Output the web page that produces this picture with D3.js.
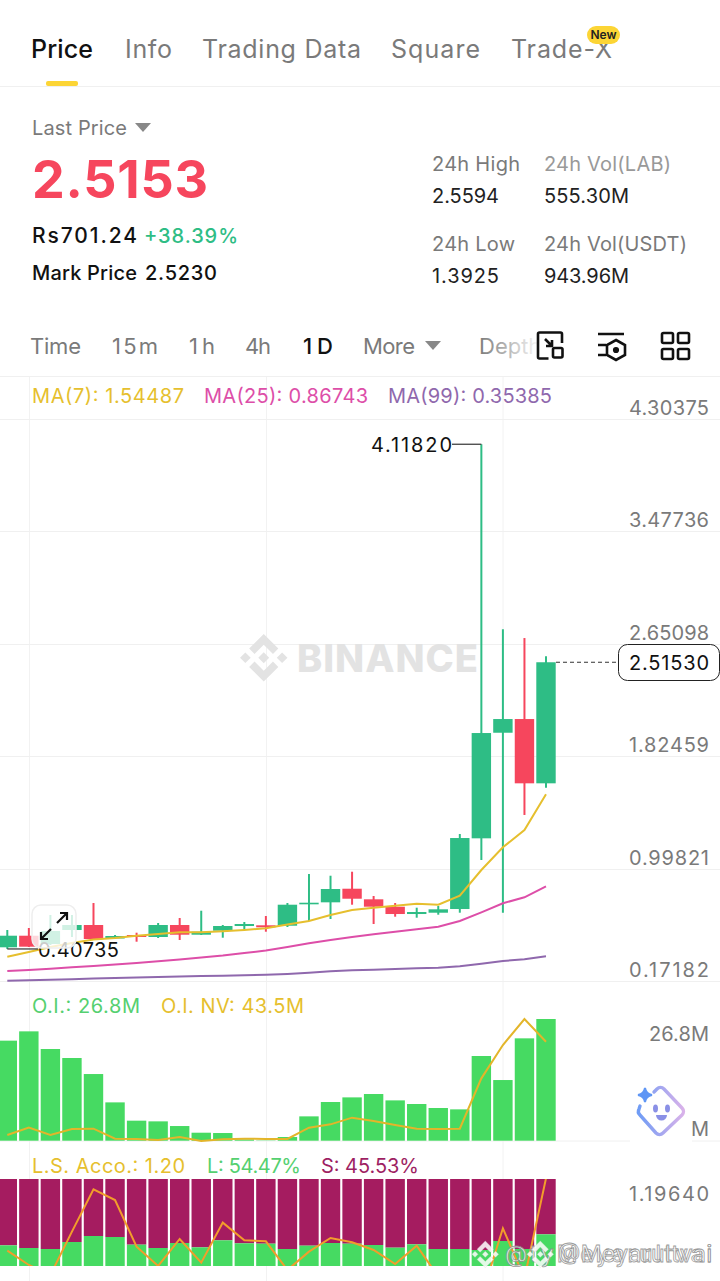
<!DOCTYPE html>
<html>
<head>
<meta charset="utf-8">
<script src="https://cdn.jsdelivr.net/npm/d3@7/dist/d3.min.js"></script>
<style>
html, body { margin: 0; padding: 0; background: #fff; }
svg { display: block; }
text { font-family: Inter, Lato, sans-serif; }
</style>
</head>
<body>
<script>
//candle data
var opens  = [0.4196,0.5048,0.4438,0.5467,0.5835,0.4842,0.5100,0.4953,0.5835,0.5122,0.5416,0.5761,0.5813,0.5783,0.7356,0.7503,0.8503,0.7724,0.7180,0.6643,0.6739,0.7011,1.2208,1.9971,2.0978,1.6252];
var closes = [0.5048,0.4240,0.5394,0.5835,0.4806,0.5026,0.4953,0.5835,0.5122,0.5342,0.5761,0.5908,0.5666,0.7327,0.7474,0.8481,0.7768,0.7180,0.6643,0.6790,0.6989,1.2230,1.9949,2.0978,1.6252,2.5153];
var highs  = [0.5467,0.5614,0.6570,0.6570,0.7452,0.5100,0.5269,0.5982,0.6349,0.6886,0.5835,0.6055,0.6496,0.7452,0.9584,0.9459,0.9753,0.7967,0.7452,0.7107,0.7231,1.2524,4.1182,2.7573,2.6933,2.5594];
var lows   = [0.40735,0.4218,0.4365,0.4953,0.4769,0.4806,0.4607,0.4879,0.4732,0.5100,0.4901,0.5467,0.5342,0.5688,0.6129,0.6276,0.7327,0.5908,0.6445,0.6371,0.6592,0.6739,1.0613,0.6739,1.3925,1.5928];
var ma7  = [0.3504,0.3850,0.4217,0.4511,0.4769,0.4879,0.5048,0.5173,0.5298,0.5298,0.5372,0.5467,0.5592,0.5871,0.6129,0.6570,0.6937,0.7107,0.7254,0.7401,0.7327,0.7989,0.9878,1.1547,1.2818,1.54487];
var ma25 = [0.2453,0.2527,0.2622,0.2725,0.2821,0.2931,0.3041,0.3166,0.3299,0.3446,0.3593,0.3776,0.3960,0.4218,0.4489,0.4732,0.4953,0.5151,0.5342,0.5519,0.5710,0.6129,0.6768,0.7430,0.7871,0.86743];
var ma99 = [0.1740,0.1777,0.1814,0.1850,0.1894,0.1939,0.1968,0.2005,0.2041,0.2078,0.2108,0.2137,0.2174,0.2240,0.2328,0.2431,0.2505,0.2549,0.2600,0.2652,0.2696,0.2799,0.2990,0.3188,0.3313,0.35385];
var priceTicks = [4.30375,3.47736,2.65098,1.82459,0.99821,0.17182];

//open interest panel
var openInterest = [22.03,24.08,20.19,18.21,14.68,8.44,4.41,4.26,3.23,1.76,1.69,0.29,0.07,0.81,5.36,8.52,9.54,10.28,8.88,8.08,7.20,6.90,18.65,13.36,22.54,26.8];
var oiNotional = [2.63,5.84,2.63,5.26,5.40,1.02,0.88,0.44,1.75,0,0.73,1.02,0.88,0.88,5.84,7.30,10.22,8.76,7.01,5.40,5.26,5.40,27.45,42.05,53.44,43.5];

//long short panel
var longPct = [49.44,48.22,47.77,50.97,53.71,53.25,49.75,48.22,50.51,48.53,51.73,50.36,50.20,47.77,49.29,50.51,50.20,49.59,48.38,49.90,47.77,47.77,47.31,51.42,47.77,54.47];
var lsRatio = [0.9685,0.9234,0.8919,1.0284,1.1617,1.1281,0.9811,0.9202,1.0053,0.9307,1.0567,1.0011,0.9979,0.9076,0.9654,1.0084,0.9948,0.9706,0.9265,0.9843,0.8866,0.8026,0.8236,1.0389,0.8814,1.1964];

var tabs = ["Price","Info","Trading Data","Square","Trade-X"];
var tabX = [31,125,202,391,511];
var tabW = [62,47,159,89,101];
var frames = ["Time","15m","1h","4h","1D","More"];
var frameX = [30,112,189,245,303,363];
var frameW = [51,46,26,26,30,52];
var verticalGrid = [29.5,266.5,503];

var green = "#2ebd85", red = "#f6465d", oiGreen = "#46da62", grey = "#7a7a7a";
var logoPath = "M38.73 53.2l24.59-24.58 24.6 24.6 14.3-14.31L63.32 0 24.42 38.9zM0 63.31l14.3-14.31 14.31 14.31-14.31 14.3zM38.73 73.41l24.59 24.59 24.6-24.6 14.31 14.29-38.9 38.91-38.91-38.88-.02-.02zM98 63.31l14.3-14.31 14.31 14.31-14.31 14.3zM77.83 63.3L63.32 48.78 52.59 59.51l-1.24 1.23-2.54 2.54 14.51 14.5 14.51-14.47z";

var svg = d3.select("body").append("svg").attr("width", 720).attr("height", 1281);
svg.append("rect").attr("width", 720).attr("height", 1281).attr("fill", "#fff");

//small helper for all the plain labels, w pins the width measured on the picture
function label(txt, x, y, size, fill, weight, anchor, w){
    var t = svg.append("text").attr("x", x).attr("y", y)
        .attr("font-size", size).attr("fill", fill)
        .attr("font-weight", weight || 400)
        .attr("text-anchor", anchor || "start")
        .text(txt);
    if(w) t.attr("textLength", w);
    return t;
}

//header tabs
tabs.forEach(function(t, i){
    label(t, tabX[i], 58, 25, i == 0 ? "#111" : grey, i == 0 ? 500 : 400, "start", tabW[i]);
});
svg.append("rect").attr("x", 46).attr("y", 81).attr("width", 32).attr("height", 5).attr("rx", 2).attr("fill", "#fcd535");
svg.append("line").attr("x1", 0).attr("x2", 720).attr("y1", 86.5).attr("y2", 86.5).attr("stroke", "#f0f0f0");
svg.append("rect").attr("x", 587).attr("y", 26).attr("width", 33).attr("height", 18).attr("rx", 9).attr("fill", "#fcd535");
label("New", 603.5, 39, 12, "#222", 600, "middle");

//price block
label("Last Price", 32, 135, 20, grey, 400, "start", 95);
svg.append("path").attr("d", "M135 123h16l-8 9z").attr("fill", "#888");
label("2.5153", 32, 198, 52, red, 700, "start", 176);
label("Rs701.24", 32, 243, 21, "#111", 500, "start", 105);
label("+38.39%", 144, 243, 20, green, 500, "start", 94);
label("Mark Price", 32, 280, 20, "#111", 500, "start", 105);
label("2.5230", 145, 280, 20, "#111", 500, "start", 72);

label("24h High", 432, 171, 20, grey, 400, "start", 88);
label("2.5594", 432, 203, 20, "#222", 400, "start", 67);
label("24h Vol(LAB)", 544, 171, 20, "#999", 400, "start", 127);
label("555.30M", 544, 203, 20, "#222", 400, "start", 85);
label("24h Low", 432, 251, 20, grey, 400, "start", 83);
label("1.3925", 432, 283, 20, "#222", 400, "start", 67);
label("24h Vol(USDT)", 544, 251, 20, grey, 400, "start", 143);
label("943.96M", 544, 283, 20, "#222", 400, "start", 85);

//time frame row
frames.forEach(function(t, i){
    label(t, frameX[i], 354, 22, t == "1D" ? "#111" : grey, t == "1D" ? 500 : 400, "start", frameW[i]);
});
svg.append("path").attr("d", "M425 341h16l-8 9z").attr("fill", "#888");
var depthFade = svg.append("defs").append("linearGradient").attr("id", "depthFade");
depthFade.append("stop").attr("offset", "0").attr("stop-color", grey);
depthFade.append("stop").attr("offset", "1").attr("stop-color", "#fff");
label("Depth", 479, 354, 22, "url(#depthFade)");

//toolbar icons
var icons = svg.append("g").attr("fill", "none").attr("stroke", "#111").attr("stroke-width", 2.6);
icons.append("path").attr("d", "M538 357v-23a1.5 1.5 0 0 1 1.5-1.5h21a1.5 1.5 0 0 1 1.5 1.5v9M538 357v0a1.5 1.5 0 0 0 1.5 1.5h9");
icons.append("rect").attr("x", 553).attr("y", 348).attr("width", 9.5).attr("height", 9.5).attr("rx", 1.5);
icons.append("path").attr("d", "M545 339l7 7M552 340v6h-6");
icons.append("path").attr("d", "M598 334h26M598 345h8M598 355h8");
icons.append("path").attr("d", "M616 340l9 5v10l-9 5-9-5v-10z");
icons.append("circle").attr("cx", 616).attr("cy", 350).attr("r", 1.8).attr("fill", "#111");
[[662,333],[678,333],[662,349],[678,349]].forEach(function(p){
    icons.append("rect").attr("x", p[0]).attr("y", p[1]).attr("width", 11).attr("height", 10).attr("rx", 1.5);
});
svg.append("line").attr("x1", 0).attr("x2", 720).attr("y1", 376.5).attr("y2", 376.5).attr("stroke", "#f0f0f0");

//scales
var x = d3.scaleLinear().domain([0, 25]).range([7.3, 546]);
var y = d3.scaleLinear().domain([0.17182, 4.30375]).range([981, 419]);
var oiY = d3.scaleLinear().domain([0, 26.8]).range([1140.7, 1019]);
var nvY = d3.scaleLinear().domain([0, 53.44]).range([1141, 1019]);
var lsY = d3.scaleLinear().domain([40, 79.75]).range([1266, 1179]);
var ratioY = d3.scaleLinear().domain([1.1964, 0.8814]).range([1178.3, 1278.3]);
var barW = 19.4;

//grid
svg.selectAll(".vgrid").data(verticalGrid).enter().append("line")
    .attr("class", "vgrid").attr("x1", function(d){ return d; }).attr("x2", function(d){ return d; })
    .attr("y1", 377).attr("y2", 1281).attr("stroke", "#f2f2f2");
svg.selectAll(".hgrid").data(priceTicks).enter().append("line")
    .attr("class", "hgrid").attr("x1", 0).attr("x2", 720)
    .attr("y1", function(d){ return Math.round(y(d)) + 0.5; }).attr("y2", function(d){ return Math.round(y(d)) + 0.5; })
    .attr("stroke", "#f0f0f0");
svg.append("line").attr("x1", 0).attr("x2", 720).attr("y1", 1141).attr("y2", 1141).attr("stroke", "#f0f0f0");

//watermark
var mark = svg.append("g").attr("fill", "#e3e3e3");
mark.append("path").attr("d", logoPath).attr("transform", "translate(240,634) scale(0.375)");
mark.append("text").attr("x", 297).attr("y", 672).attr("font-size", 38).attr("font-weight", 800).attr("textLength", 181).text("BINANCE");

//candles
var candles = svg.selectAll(".candle").data(opens).enter().append("g").attr("class", "candle");
candles.append("line")
    .attr("x1", function(d, i){ return x(i); }).attr("x2", function(d, i){ return x(i); })
    .attr("y1", function(d, i){ return y(highs[i]); }).attr("y2", function(d, i){ return y(lows[i]); })
    .attr("stroke-width", 2)
    .attr("stroke", function(d, i){ return closes[i] >= d ? green : red; });
candles.append("rect")
    .attr("x", function(d, i){ return x(i) - barW / 2; })
    .attr("width", barW)
    .attr("y", function(d, i){ return y(Math.max(d, closes[i])); })
    .attr("height", function(d, i){ return Math.max(1.5, Math.abs(y(d) - y(closes[i]))); })
    .attr("fill", function(d, i){ return closes[i] >= d ? green : red; });

//moving averages
var maLine = d3.line().x(function(d, i){ return x(i); }).y(function(d){ return y(d); });
[[ma7, "#e6bf2e"], [ma25, "#dd4ea8"], [ma99, "#8f68ad"]].forEach(function(m){
    svg.append("path").attr("d", maLine(m[0])).attr("fill", "none").attr("stroke", m[1]).attr("stroke-width", 2);
});

//high and low call outs
svg.append("line").attr("x1", 452).attr("x2", x(22)).attr("y1", y(4.1182)).attr("y2", y(4.1182)).attr("stroke", "#333").attr("stroke-width", 1.2);
label("4.11820", 371, 452, 20, "#111", 400, "start", 81);
svg.append("line").attr("x1", x(0)).attr("x2", 38).attr("y1", y(0.40735)).attr("y2", y(0.40735)).attr("stroke", "#333").attr("stroke-width", 1.2);
label("0.40735", 38, 957, 20, "#111", 400, "start", 81);

//MA legend
label("MA(7): 1.54487", 32, 403, 20, "#e6bf2e", 400, "start", 152);
label("MA(25): 0.86743", 204, 403, 20, "#dd4ea8", 400, "start", 164);
label("MA(99): 0.35385", 388, 403, 20, "#8f68ad", 400, "start", 164);

//price axis
var priceAxis = d3.axisRight(y).tickValues(priceTicks).tickSize(0).tickFormat(d3.format(".5f"));
var axisG = svg.append("g").attr("transform", "translate(709,0)").call(priceAxis);
axisG.select(".domain").remove();
axisG.selectAll("text").attr("x", 0).attr("dy", -4.5).attr("text-anchor", "end")
    .attr("font-size", 20).attr("font-family", "Inter").attr("fill", grey).attr("textLength", 80);

//current price tag
svg.append("line").attr("x1", x(25) + 10).attr("x2", 618).attr("y1", y(2.5153)).attr("y2", y(2.5153))
    .attr("stroke", "#333").attr("stroke-dasharray", "4 3");
svg.append("rect").attr("x", 618.5).attr("y", 644.5).attr("width", 101).attr("height", 36).attr("rx", 9)
    .attr("fill", "#fff").attr("stroke", "#222");
label("2.51530", 629, 670, 20, "#111", 400, "start", 80);

//open interest panel
label("O.I.: 26.8M", 32, 1013, 20, "#55d070", 400, "start", 108);
label("O.I. NV: 43.5M", 161, 1013, 20, "#e6bf2e", 400, "start", 143);
svg.selectAll(".oi").data(openInterest).enter().append("rect")
    .attr("class", "oi")
    .attr("x", function(d, i){ return x(i) - barW / 2; })
    .attr("width", barW)
    .attr("y", function(d){ return oiY(d); })
    .attr("height", function(d){ return oiY(0) - oiY(d); })
    .attr("fill", oiGreen);
svg.append("path")
    .attr("d", d3.line().x(function(d, i){ return x(i); }).y(function(d){ return nvY(d); })(oiNotional))
    .attr("fill", "none").attr("stroke", "#e3b52a").attr("stroke-width", 2);
label("26.8M", 649, 1041, 20, grey, 400, "start", 60);

//assistant badge covers the lower axis label
svg.append("rect").attr("x", 630).attr("y", 1083).attr("width", 62).attr("height", 60).attr("fill", "#fff");
label("M", 709, 1136, 20, grey, 400, "end");
var face = svg.append("defs").append("linearGradient").attr("id", "face");
face.append("stop").attr("offset", "0").attr("stop-color", "#6f9cf5");
face.append("stop").attr("offset", "1").attr("stop-color", "#d9b2ea");
svg.append("path").attr("d", "M640 1106l-1 3a5 5 0 0 0 1 6l16 18a5 5 0 0 0 7 0l19-18a5 5 0 0 0 0-7l-18-19a5 5 0 0 0-7 0l-3 3")
    .attr("fill", "none").attr("stroke", "url(#face)").attr("stroke-width", 3.4).attr("stroke-linecap", "round");
svg.append("path").attr("d", "M645 1088q1 6 7 7q-6 1-7 7q-1-6-7-7q6-1 7-7z").attr("fill", "#5f96f5").attr("stroke", "#5f96f5").attr("stroke-width", 2);
svg.append("ellipse").attr("cx", 655.5).attr("cy", 1108.5).attr("rx", 2.5).attr("ry", 4).attr("fill", "#8a90e6");
svg.append("ellipse").attr("cx", 667.5).attr("cy", 1108.5).attr("rx", 2.5).attr("ry", 4).attr("fill", "#8a90e6");
svg.append("path").attr("d", "M656 1115h11a5.5 5.5 0 0 1-11 0z").attr("fill", "#8a90e6");

//long short panel
label("L.S. Acco.: 1.20", 32, 1173, 20, "#e6bf2e", 400, "start", 153);
label("L: 54.47%", 207, 1173, 20, "#55d070", 400, "start", 94);
label("S: 45.53%", 321, 1173, 20, "#9e1f63", 400, "start", 98);
svg.selectAll(".short").data(longPct).enter().append("rect")
    .attr("class", "short")
    .attr("x", function(d, i){ return x(i) - barW / 2; })
    .attr("width", barW)
    .attr("y", lsY.range()[1])
    .attr("height", function(d){ return lsY(d) - lsY.range()[1]; })
    .attr("fill", "#a51c60");
svg.selectAll(".long").data(longPct).enter().append("rect")
    .attr("class", "long")
    .attr("x", function(d, i){ return x(i) - barW / 2; })
    .attr("width", barW)
    .attr("y", function(d){ return lsY(d); })
    .attr("height", function(d){ return lsY.range()[0] - lsY(d); })
    .attr("fill", oiGreen);
svg.append("clipPath").attr("id", "lsClip").append("rect").attr("x", 0).attr("y", 1179).attr("width", 720).attr("height", 87);
svg.append("path")
    .attr("clip-path", "url(#lsClip)")
    .attr("d", d3.line().x(function(d, i){ return x(i); }).y(function(d){ return ratioY(d); })(lsRatio))
    .attr("fill", "none").attr("stroke", "#f29d2b").attr("stroke-width", 2);
label("1.19640", 629, 1201, 20, grey, 400, "start", 80);

//share watermark, two copies on top of each other
[[472, 505], [527, 558]].forEach(function(p, i){
    var m = svg.append("g").attr("opacity", 0.85);
    m.append("path").attr("d", logoPath).attr("transform", "translate(" + p[0] + ",1241) scale(0.21)").attr("fill", "#fff").attr("stroke", "#d8d8d8").attr("stroke-width", 2);
    m.append("text").attr("x", p[1]).attr("y", 1262).attr("font-size", 23)
        .attr("fill", "#fff").attr("stroke", "#8c8c8c").attr("stroke-width", 0.8)
        .attr("textLength", 712 - p[1])
        .text(i == 0 ? "@tyMeyarultvai" : "@Meyarultvai");
});

//resize button over the candles
svg.append("rect").attr("x", 32).attr("y", 905).attr("width", 44).attr("height", 43).attr("rx", 9)
    .attr("fill", "#fff").attr("fill-opacity", 0.78).attr("stroke", "#eeeeee").attr("stroke-width", 1.5);
svg.append("path").attr("d", "M41 939l10-10M41 932v7h7M57 923l10-10M60 913h7v7")
    .attr("fill", "none").attr("stroke", "#111").attr("stroke-width", 2.2);
</script>
</body>
</html>
